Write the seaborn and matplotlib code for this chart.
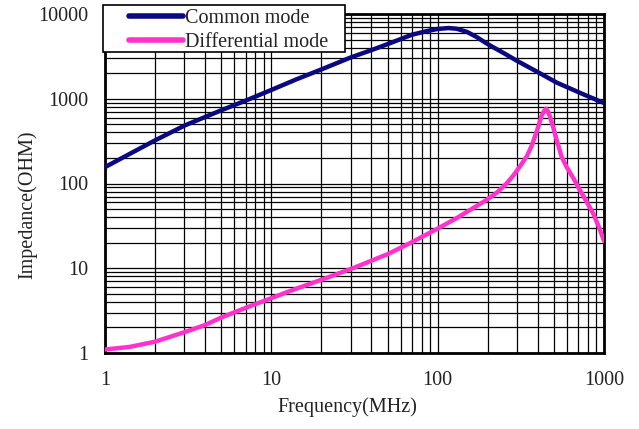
import numpy as np
import pandas as pd
import matplotlib
matplotlib.use("Agg")
import matplotlib.pyplot as plt
import matplotlib.ticker as mticker
from matplotlib.legend_handler import HandlerLine2D
from matplotlib.patches import Rectangle
import seaborn as sns

# --- data (frequency in MHz, impedance in ohm) ---
cm_freq = [1, 1.41, 2, 3.03, 4, 5, 7.1, 10, 14, 20, 30, 40, 50, 70, 85,
           99, 116, 130, 150, 170, 200, 250, 300, 404, 520, 750, 1000]
cm_imp = [156, 224, 323, 486, 609, 731, 960, 1270, 1680, 2220, 3070, 3750,
          4410, 5690, 6250, 6640, 6830, 6700, 6150, 5400, 4410, 3450, 2800,
          2040, 1550, 1130, 890]

dm_freq = [1, 1.41, 2, 3.03, 4, 5, 7.1, 10, 14, 20, 31.7, 50.6, 70, 100.5,
           130, 160, 192, 227, 260, 286, 313, 344, 368, 394, 422, 437, 449,
           462, 474, 497, 520, 557, 597, 657, 718, 790, 863, 930, 1000]
dm_imp = [1.10, 1.18, 1.36, 1.77, 2.14, 2.62, 3.44, 4.44, 5.7, 7.3, 10.2,
          14.8, 20.3, 29.5, 39, 50, 62, 78, 100, 125, 160, 210, 280, 410,
          630, 720, 765, 700, 609, 450, 323, 205, 156, 114, 83, 60, 43.8,
          31, 21]

labels = ["Common mode", "Differential mode"]
colors = ["#0a0a80", "#ff33cc"]

df = pd.concat([
    pd.DataFrame({"Frequency": cm_freq, "Impedance": cm_imp, "Mode": labels[0]}),
    pd.DataFrame({"Frequency": dm_freq, "Impedance": dm_imp, "Mode": labels[1]}),
])

# --- style ---
sns.set_style("white")
plt.rcParams["font.family"] = ["Liberation Serif", "DejaVu Serif"]

fig = plt.figure(figsize=(6.39, 4.29), dpi=100)
ax = fig.add_axes([105 / 639, 1 - 353 / 429, 499 / 639, 339 / 429])

sns.lineplot(data=df, x="Frequency", y="Impedance", hue="Mode",
             palette=colors, linewidth=3.2, estimator=None, ax=ax,
             legend=False, zorder=3)
for ln in ax.get_lines():
    ln.set_solid_joinstyle("round")
    ln.set_solid_capstyle("round")

ax.set_xscale("log")
ax.set_yscale("log")
ax.set_xlim(1, 1000)
ax.set_ylim(1, 10000)

# dense grid, major + minor
ax.xaxis.set_major_locator(mticker.LogLocator(base=10, numticks=10))
ax.yaxis.set_major_locator(mticker.LogLocator(base=10, numticks=10))
ax.xaxis.set_minor_locator(mticker.LogLocator(base=10, subs=np.arange(2, 10), numticks=20))
ax.yaxis.set_minor_locator(mticker.LogLocator(base=10, subs=np.arange(2, 10), numticks=20))
fmt = mticker.FuncFormatter(lambda v, p: f"{v:g}")
ax.xaxis.set_major_formatter(fmt)
ax.yaxis.set_major_formatter(fmt)
ax.xaxis.set_minor_formatter(mticker.NullFormatter())
ax.yaxis.set_minor_formatter(mticker.NullFormatter())
ax.grid(True, which="both", color="black", linewidth=0.9)
ax.set_axisbelow(True)

ax.tick_params(axis="both", which="both", length=0, labelsize=14.5, colors="#222222")
ax.tick_params(axis="x", pad=13)
ax.tick_params(axis="y", pad=12)

for s in ax.spines.values():
    s.set_color("black")
    s.set_linewidth(2)

ax.set_xlabel("Frequency(MHz)", fontsize=14.5, color="#222222")
ax.set_ylabel("Impedance(OHM)", fontsize=14.5, color="#222222")
ax.xaxis.set_label_coords((347 - 105) / 499, (353 - 397) / 339)
ax.yaxis.set_label_coords((37 - 105) / 499, (353 - 205) / 339)


# legend: line handle starts a bit inside the box, like the original
class OffsetLine(HandlerLine2D):
    def get_xdata(self, legend, xdescent, ydescent, width, height, fontsize):
        x0 = -xdescent + 0.3 * width
        xdata = np.array([x0, -xdescent + width])
        return xdata, xdata


box = Rectangle((103 / 639, 1 - 52 / 429), 242 / 639, 47 / 429,
                transform=fig.transFigure, facecolor="white",
                edgecolor="black", linewidth=1.2, zorder=4)
fig.patches.append(box)

handles = [plt.Line2D([], [], color=c, linewidth=4, solid_capstyle="round")
           for c in colors]
leg = fig.legend(handles, labels, loc="upper left",
                 bbox_to_anchor=(103 / 639, 1 - 6 / 429),
                 fontsize=14.5, frameon=False,
                 handlelength=3.8, handletextpad=0.1, borderpad=0.15,
                 labelspacing=0.25, borderaxespad=0,
                 handler_map={h: OffsetLine() for h in handles})
for t in leg.get_texts():
    t.set_color("#222222")
leg.set_zorder(5)

fig.savefig("out.png", dpi=100)
